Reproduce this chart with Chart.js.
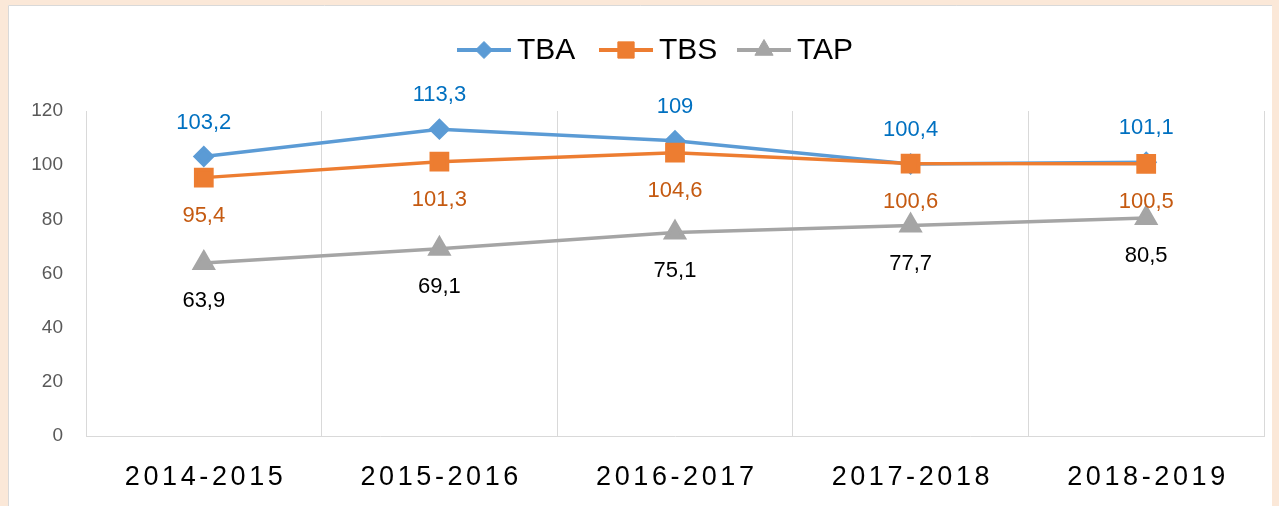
<!DOCTYPE html>
<html>
<head>
<meta charset="utf-8">
<script src="https://cdn.jsdelivr.net/npm/chart.js@4/dist/chart.umd.min.js"></script>
<style>
  html, body { margin: 0; padding: 0; background: #fbe8d8; }
  #wrap { width: 1279px; height: 506px; position: relative; }
</style>
</head>
<body>
<div id="wrap"><canvas id="grafik" width="1279" height="506"></canvas></div>
<script>
// kategori tahun ajaran
const labels = ['2014-2015', '2015-2016', '2016-2017', '2017-2018', '2018-2019'];
// nilai tiap seri
const dataTBA = [103.2, 113.3, 109, 100.4, 101.1];
const dataTBS = [95.4, 101.3, 104.6, 100.6, 100.5];
const dataTAP = [63.9, 69.1, 75.1, 77.7, 80.5];
// label sumbu Y
const yTicks = [0, 20, 40, 60, 80, 100, 120];

const FONT = '"Liberation Sans", "Open Sans", sans-serif';

// posisi label angka per seri (di atas / di bawah titik)
const labelStyle = [
  { color: '#0070C0', dy: -34 },
  { color: '#C55A11', dy: 38 },
  { color: '#000000', dy: 38 }
];

function fmt(v) {
  return String(v).replace('.', ',');
}

const hiasan = {
  id: 'hiasan',
  beforeDraw(chart) {
    const c = chart.ctx;
    c.save();
    c.fillStyle = '#fbe8d8';
    c.fillRect(0, 0, chart.width, chart.height);
    c.fillStyle = '#ffffff';
    c.fillRect(8, 5, 1264, 501);
    c.strokeStyle = '#d9d9d9';
    c.lineWidth = 1;
    c.beginPath();
    c.moveTo(8.5, 506); c.lineTo(8.5, 5.5); c.lineTo(1272, 5.5);
    c.stroke();
    c.restore();
  },
  afterDatasetsDraw(chart) {
    const c = chart.ctx;
    c.save();
    c.font = '22px ' + FONT;
    c.textAlign = 'center';
    c.textBaseline = 'middle';
    chart.data.datasets.forEach(function(ds, i) {
      const meta = chart.getDatasetMeta(i);
      meta.data.forEach(function(pt, j) {
        c.fillStyle = labelStyle[i].color;
        c.fillText(fmt(ds.data[j]), pt.x, pt.y + labelStyle[i].dy);
      });
    });
    c.restore();
  },
  afterDraw(chart) {
    const c = chart.ctx;
    // label sumbu X dengan jarak huruf
    const xs = chart.scales.x;
    c.save();
    c.font = '27px ' + FONT;
    c.fillStyle = '#000000';
    c.textBaseline = 'middle';
    c.textAlign = 'left';
    c.letterSpacing = '3.6px';
    labels.forEach(function(lb, i) {
      const w = c.measureText(lb).width - 3.6;
      c.fillText(lb, xs.getPixelForValue(i) - w / 2, 478);
    });
    c.restore();

    // legenda buatan sendiri: garis + penanda
    const items = [
      { text: 'TBA', x: 457 },
      { text: 'TBS', x: 599 },
      { text: 'TAP', x: 737 }
    ];
    c.save();
    chart.data.datasets.forEach(function(ds, i) {
      const it = items[i];
      const y = 50;
      c.strokeStyle = ds.borderColor;
      c.lineWidth = 4;
      c.beginPath();
      c.moveTo(it.x, y);
      c.lineTo(it.x + 54, y);
      c.stroke();
      c.fillStyle = ds.backgroundColor;
      c.strokeStyle = ds.borderColor;
      c.lineWidth = 1;
      Chart.helpers.drawPoint(c, { pointStyle: ds.pointStyle, radius: ds.pointRadius, rotation: 0, borderWidth: 1 }, it.x + 27, y);
      c.fillStyle = '#000000';
      c.font = '30px ' + FONT;
      c.textAlign = 'left';
      c.textBaseline = 'middle';
      c.fillText(it.text, it.x + 60, y + 1);
    });
    c.restore();
  }
};

const ctx = document.getElementById('grafik').getContext('2d');

new Chart(ctx, {
  type: 'line',
  data: {
    labels: labels,
    datasets: [
      {
        label: 'TBA',
        data: dataTBA,
        order: 1,
        borderColor: '#5B9BD5',
        backgroundColor: '#5B9BD5',
        borderWidth: 3.5,
        pointStyle: 'rectRot',
        pointRadius: 8.5,
        pointHoverRadius: 8.5,
        tension: 0
      },
      {
        label: 'TBS',
        data: dataTBS,
        order: 0,
        borderColor: '#ED7D31',
        backgroundColor: '#ED7D31',
        borderWidth: 3.5,
        pointStyle: 'rect',
        pointRadius: 11.5,
        pointHoverRadius: 11.5,
        tension: 0
      },
      {
        label: 'TAP',
        data: dataTAP,
        order: 2,
        borderColor: '#A5A5A5',
        backgroundColor: '#A5A5A5',
        borderWidth: 3.5,
        pointStyle: 'triangle',
        pointRadius: 10.5,
        pointHoverRadius: 10.5,
        tension: 0
      }
    ]
  },
  options: {
    responsive: false,
    animation: false,
    layout: {
      padding: { top: 111, right: 14, bottom: 0, left: 0 }
    },
    plugins: {
      legend: { display: false },
      title: { display: false },
      tooltip: { enabled: false }
    },
    scales: {
      x: {
        offset: true,
        grid: {
          display: true,
          offset: true,
          color: '#d9d9d9',
          lineWidth: 1,
          drawTicks: false
        },
        border: { display: true, color: '#d9d9d9', width: 1 },
        ticks: { display: false },
        afterFit: function(scale) { scale.height = 70; }
      },
      y: {
        min: 0,
        max: 120,
        afterBuildTicks: function(scale) {
          scale.ticks = yTicks.map(function(v) { return { value: v }; });
        },
        grid: { display: false, drawTicks: false },
        border: { display: false },
        ticks: {
          color: '#595959',
          font: { family: FONT, size: 19 },
          padding: 23
        },
        afterFit: function(scale) { scale.width = 86; }
      }
    }
  },
  plugins: [hiasan]
});
</script>
</body>
</html>
